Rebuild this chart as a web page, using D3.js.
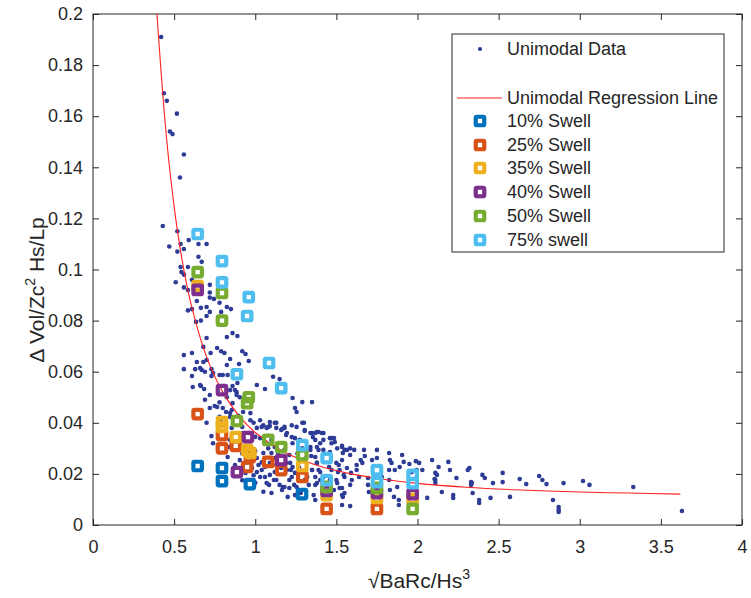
<!DOCTYPE html>
<html>
<head>
<meta charset="utf-8">
<script src="https://cdn.jsdelivr.net/npm/d3@7"></script>
<style>
  html, body { margin: 0; padding: 0; background: #fff; }
  svg { display: block; }
  text { font-family: "Liberation Sans", Arial, Helvetica, sans-serif; fill: #262626; }
</style>
</head>
<body>
<svg id="chart" width="751" height="598"></svg>
<script>
// ---------- DATA ----------
const xTicks = [0, 0.5, 1, 1.5, 2, 2.5, 3, 3.5, 4];
const xTickLabels = ["0", "0.5", "1", "1.5", "2", "2.5", "3", "3.5", "4"];
const yTicks = [0, 0.02, 0.04, 0.06, 0.08, 0.1, 0.12, 0.14, 0.16, 0.18, 0.2];
const yTickLabels = ["0", "0.02", "0.04", "0.06", "0.08", "0.1", "0.12", "0.14", "0.16", "0.18", "0.2"];

const unimodalData = [
  [0.42,0.191],[0.437,0.169],[0.455,0.166],[0.517,0.161],[0.474,0.154],[0.49,0.153],[0.56,0.145],[0.536,0.136],
  [0.43,0.117],[0.52,0.115],[0.59,0.1115],[0.54,0.110],[0.47,0.109],[0.52,0.107],[0.56,0.108],[0.65,0.110],[0.70,0.110],
  [0.65,0.105],[0.67,0.103],[0.54,0.101],[0.545,0.099],[0.585,0.101],[0.56,0.098],[0.61,0.096],[0.51,0.095],[0.56,0.093],
  [0.585,0.092],[0.72,0.094],[0.72,0.091],[0.72,0.089],[0.745,0.0885],[0.64,0.0877],[0.78,0.087],[0.665,0.085],[0.70,0.0853],
  [0.585,0.084],[0.61,0.0845],[0.825,0.0853],[0.85,0.0845],[0.72,0.0834],[0.79,0.0834],[0.70,0.0818],[0.665,0.080],[0.635,0.0795],
  [0.825,0.0736],[0.86,0.0751],[0.89,0.074],[0.70,0.0732],[0.68,0.0697],[0.765,0.0693],[0.79,0.068],[0.81,0.0673],[0.725,0.0673],
  [0.56,0.0665],[0.61,0.0673],[0.92,0.068],[0.94,0.0669],[0.64,0.0638],[0.68,0.0638],[0.70,0.0646],
  [0.845,0.065],[0.96,0.0642],[0.90,0.063],
  [0.56,0.061],[0.63,0.061],[0.67,0.0607],[0.69,0.060],[0.73,0.061],[0.61,0.0583],[0.73,0.0583],[0.78,0.0587],[0.83,0.0587],
  [0.89,0.0556],[0.86,0.0544],[0.66,0.0548],[0.685,0.0532],[0.72,0.0509],[0.845,0.0528],[0.885,0.052],[0.885,0.0509],
  [1.01,0.0548],[1.06,0.0532],[1.11,0.058],[1.15,0.0571],[1.23,0.0497],[1.29,0.0481],[1.35,0.0481],[1.245,0.0458],[1.255,0.0442],
  [0.75,0.0466],[0.80,0.0458],[0.82,0.0442],[0.855,0.045],[0.925,0.0442],[0.97,0.0438],[0.895,0.0427],[0.845,0.0423],
  [0.70,0.040],[0.73,0.0348],[0.845,0.0333],[0.84,0.0305],[0.83,0.0266],
  [0.97,0.041],[0.99,0.040],[1.01,0.038],[1.03,0.041],[1.05,0.039],[1.08,0.0384],[1.09,0.0403],[1.13,0.040],[1.16,0.0372],
  [1.18,0.038],[1.19,0.0352],[1.225,0.039],[1.255,0.0384],[1.29,0.040],[1.305,0.0372],[1.34,0.036],[1.355,0.0344],[1.38,0.0364],
  [1.41,0.036],[1.42,0.0333],[1.47,0.034],[1.49,0.0325],[1.535,0.0305],[1.54,0.0282],[1.535,0.0254],[1.565,0.0294],[1.46,0.0286],
  [1.39,0.0294],[1.34,0.0305],[1.37,0.0266],[1.38,0.0243],[1.39,0.0215],[1.35,0.0215],[1.32,0.0188],[1.50,0.0243],[1.51,0.0207],
  [1.50,0.0176],[1.52,0.0145],[1.535,0.0117],[1.535,0.0078],[1.255,0.0149],[1.21,0.0176],[1.17,0.0149],[1.13,0.0176],[1.07,0.0164],
  [1.09,0.0196],[1.03,0.0188],[1.01,0.0207],[1.06,0.0227],[1.02,0.0235],[0.98,0.0223],[0.94,0.0204],[0.875,0.0235],[0.905,0.0254],
  [0.98,0.0262],[1.01,0.0262],[1.05,0.0282],[1.10,0.0282],[1.14,0.0282],[1.18,0.0294],[1.21,0.0274],[1.19,0.0243],[1.23,0.0227],
  [1.16,0.0223],[1.12,0.0207],[1.03,0.034],[1.06,0.032],[1.10,0.0333],[1.12,0.0305],[1.23,0.032],[1.275,0.0333],[1.29,0.030],
  [0.78,0.0423],[0.79,0.0403],[0.855,0.038],[0.92,0.0384],[0.925,0.036],[1.585,0.030],[1.585,0.0274],[1.565,0.0223],[1.55,0.0188],
  [1.46,0.0176],[1.42,0.0149],[1.38,0.0164],[1.42,0.0188],
  [1.61,0.0294],[1.67,0.0294],[1.675,0.027],[1.65,0.0254],[1.625,0.0235],[1.625,0.0215],[1.64,0.0188],[1.59,0.0204],[1.595,0.0176],
  [1.585,0.0157],[1.695,0.0184],[1.695,0.0157],[1.70,0.0129],[1.75,0.0294],[1.75,0.0262],[1.72,0.0254],[1.825,0.0282],[1.83,0.0254],
  [1.84,0.0243],[1.86,0.0215],[1.825,0.0176],[1.83,0.0137],[1.855,0.011],[1.885,0.0098],[1.885,0.0078],[1.905,0.0274],[1.915,0.0247],
  [1.89,0.0227],[1.875,0.0149],[1.825,0.0215],[1.78,0.0188],[1.66,0.0243],
  [1.99,0.025],[2.01,0.0243],[1.995,0.0215],[1.965,0.0207],[2.03,0.0215],[2.09,0.0254],[2.13,0.0227],[2.12,0.0196],[2.11,0.0176],
  [2.11,0.0164],[2.06,0.0106],[2.19,0.0247],[2.20,0.0215],[2.24,0.0184],[2.15,0.0129],[2.22,0.0117],[2.22,0.0106],[2.31,0.0215],
  [2.32,0.0223],[2.335,0.0164],[2.34,0.0125],[2.38,0.0098],[2.38,0.0086],[2.40,0.0196],[2.415,0.0184],[2.45,0.0106],[2.465,0.0164],
  [2.525,0.0204],[2.525,0.0168],[2.57,0.011],[2.63,0.018],[2.67,0.016],
  [1.95,0.0239],[2.11,0.0204],[2.105,0.018],[2.33,0.0168],[2.33,0.0157],
  [2.75,0.0192],[2.77,0.0176],[2.795,0.016],[2.835,0.0098],[2.87,0.007],[2.87,0.0059],[2.87,0.0051],[2.90,0.0164],[3.02,0.0172],
  [3.06,0.0157],[3.33,0.0149],[3.63,0.0055],
  [0.615,0.054],[0.665,0.0544],[0.69,0.049],[0.765,0.0462],[0.78,0.048],[0.72,0.0458],[0.825,0.050],[0.875,0.0528],[0.905,0.050],
  [0.74,0.032],[0.845,0.0438],[0.86,0.0477],[0.825,0.0626],[0.80,0.0587],[0.74,0.0595],[0.66,0.0614],
  [1.04,0.0384],[1.07,0.038],[1.09,0.0387],[1.12,0.040],[1.13,0.038],[1.165,0.0376],[1.18,0.0384],[1.195,0.036],[1.225,0.0344],
  [1.245,0.034],[1.30,0.040],[1.305,0.0368],[1.35,0.036],[1.37,0.036],[1.39,0.0364],[1.42,0.036],[1.37,0.0333],[1.40,0.032],
  [1.38,0.0305],[1.42,0.0294],[1.46,0.034],[1.47,0.032],[1.485,0.034],[1.505,0.030],[1.535,0.031],[1.55,0.0294],[1.34,0.0294],
  [1.345,0.027],[1.38,0.0243],[1.35,0.0215],[1.37,0.0188],[1.40,0.0207],[1.455,0.0227],[1.47,0.0215],[1.515,0.0235],[1.52,0.0215],
  [1.545,0.0196],[1.505,0.0164],[1.535,0.0145],[1.55,0.0125],[1.46,0.0157],[1.485,0.0137],[1.40,0.0176],[1.37,0.0157],[1.04,0.0215],
  [1.06,0.0188],[1.085,0.0157],[1.115,0.0176],[1.15,0.0157],[1.18,0.0149],[1.225,0.0188],[1.22,0.0215],[1.215,0.0243],[1.24,0.0157],
  [1.21,0.0145],[1.165,0.0137],[1.09,0.0243],[1.115,0.0262],[1.195,0.0215],[1.245,0.0204],[1.305,0.0176],[1.33,0.0157],[1.245,0.0117],
  [1.36,0.0117],[1.37,0.0098],[1.585,0.0074],[1.54,0.011],
  [0.96,0.036],[1.0,0.0345],[0.97,0.031],[1.0,0.029],[0.92,0.028],[0.95,0.0245],[0.99,0.0195],[1.04,0.0245],[1.08,0.030],[1.0,0.0165],
  [0.92,0.0175],[1.05,0.013],[1.10,0.0125],[1.20,0.011],[1.28,0.0125],[1.13,0.0235],[1.27,0.0225],[1.31,0.026],[1.26,0.028]
];

// regression curve
const regX = [0.394, 0.45, 0.5, 0.55, 0.6, 0.7, 0.8, 0.9, 1.0, 1.2, 1.4, 1.6, 1.8, 2.0, 2.3, 2.6, 3.0, 3.3, 3.62];
const regY = [0.200, 0.1536, 0.1246, 0.1034, 0.0876, 0.0658, 0.0520, 0.0427, 0.0362, 0.0279, 0.0230, 0.0199, 0.0178, 0.0163, 0.0148, 0.0138, 0.0129, 0.0125, 0.0121];

const swell10 = [[0.645,0.0231],[0.795,0.0223],[0.795,0.0172],[0.967,0.016],[1.288,0.0121]];
const swell25 = [[0.645,0.0434],[0.795,0.0352],[0.795,0.030],[0.88,0.031],[0.967,0.0266],[0.95,0.0227],[1.08,0.0247],[1.16,0.0215],[1.29,0.0188],[1.44,0.0063],[1.75,0.0063]];
const swell35 = [[0.645,0.0935],[0.795,0.0403],[0.795,0.0384],[0.88,0.0344],[0.95,0.0294],[0.97,0.0282],[1.29,0.0231],[1.44,0.0117],[1.75,0.0106],[1.97,0.0102]];
const swell40 = [[0.645,0.092],[0.795,0.0528],[0.955,0.0344],[0.887,0.0207],[1.16,0.0254],[1.44,0.0133],[1.75,0.0125],[1.97,0.0121]];
const swell50 = [[0.645,0.099],[0.795,0.0908],[0.795,0.080],[0.96,0.050],[0.95,0.0477],[0.887,0.0407],[1.08,0.0333],[1.16,0.0305],[1.29,0.0274],[1.44,0.0149],[1.75,0.0145],[1.97,0.0063]];
const swell75 = [[0.645,0.1139],[0.795,0.1033],[0.795,0.095],[0.96,0.0892],[0.95,0.0818],[0.887,0.059],[1.085,0.0634],[1.16,0.0536],[1.29,0.0313],[1.44,0.0262],[1.44,0.0176],[1.75,0.0215],[1.75,0.0168],[1.97,0.0196],[1.97,0.0164]];

const swellNames = ["10% Swell", "25% Swell", "35% Swell", "40% Swell", "50% Swell", "75% swell"];
const swellColors = ["#0072BD", "#D95319", "#EDB120", "#7E2F8E", "#77AC30", "#4DBEEE"];
const swellSeries = [swell10, swell25, swell35, swell40, swell50, swell75];

// ---------- CHART ----------
const svg = d3.select("#chart");
const L = 93, R = 742, T = 14, B = 525;
const x = d3.scaleLinear().domain([0, 4]).range([L, R]);
const y = d3.scaleLinear().domain([0, 0.2]).range([B, T]);
const axisColor = "#262626";

svg.append("defs").append("clipPath").attr("id", "clip")
  .append("rect").attr("x", L).attr("y", T).attr("width", R - L).attr("height", B - T);

function styleAxis(g) {
  g.selectAll(".domain").remove();
  g.selectAll(".tick line").attr("stroke", axisColor).attr("stroke-width", 1);
  g.selectAll("text").attr("fill", axisColor).style("font-size", "18px");
}

svg.append("g").attr("transform", `translate(0,${B})`)
  .call(d3.axisBottom(x).tickValues(xTicks).tickFormat((d, i) => xTickLabels[i]).tickSizeInner(-6).tickSizeOuter(0).tickPadding(15))
  .call(styleAxis);
svg.append("g").attr("transform", `translate(0,${T})`)
  .call(d3.axisTop(x).tickValues(xTicks).tickFormat("").tickSizeInner(-6).tickSizeOuter(0))
  .call(styleAxis);
svg.append("g").attr("transform", `translate(${L},0)`)
  .call(d3.axisLeft(y).tickValues(yTicks).tickFormat((d, i) => yTickLabels[i]).tickSizeInner(-6).tickSizeOuter(0).tickPadding(10))
  .call(styleAxis);
svg.append("g").attr("transform", `translate(${R},0)`)
  .call(d3.axisRight(y).tickValues(yTicks).tickFormat("").tickSizeInner(-6).tickSizeOuter(0))
  .call(styleAxis);

svg.append("rect").attr("x", L).attr("y", T).attr("width", R - L).attr("height", B - T)
  .attr("fill", "none").attr("stroke", axisColor).attr("stroke-width", 1);

const plot = svg.append("g").attr("clip-path", "url(#clip)");

// unimodal data dots
plot.selectAll("circle.dot").data(unimodalData).join("circle")
  .attr("class", "dot")
  .attr("cx", d => x(d[0])).attr("cy", d => y(d[1]))
  .attr("r", 2.3).attr("fill", "#2E3B97");

// regression line
const regPts = regX.map((v, i) => [v, regY[i]]);
plot.append("path").datum(regPts)
  .attr("d", d3.line().x(d => x(d[0])).y(d => y(d[1])).curve(d3.curveCatmullRom.alpha(0.5)))
  .attr("fill", "none").attr("stroke", "#FF2020").attr("stroke-width", 1.1);

// swell squares
const sq = 8.5, sw = 4.2;
swellSeries.forEach((series, si) => {
  plot.append("g").selectAll("rect").data(series).join("rect")
    .attr("x", d => x(d[0]) - sq / 2).attr("y", d => y(d[1]) - sq / 2)
    .attr("width", sq).attr("height", sq).attr("rx", 1)
    .attr("fill", "none").attr("stroke", swellColors[si]).attr("stroke-width", sw);
});

// axis titles
svg.append("text").attr("x", 419).attr("y", 588).attr("text-anchor", "middle")
  .style("font-size", "21px")
  .call(t => {
    t.append("tspan").text("\u221ABaRc/Hs");
    t.append("tspan").attr("dy", -9).style("font-size", "14px").text("3");
  });

svg.append("text").attr("transform", "translate(44,290) rotate(-90)").attr("text-anchor", "middle")
  .style("font-size", "21px")
  .call(t => {
    t.append("tspan").text("\u0394 Vol/Zc");
    t.append("tspan").attr("dy", -9).style("font-size", "14px").text("2");
    t.append("tspan").attr("dy", 9).text(" Hs/Lp");
  });

// legend
const lg = svg.append("g");
lg.append("rect").attr("x", 452).attr("y", 34).attr("width", 272).attr("height", 218)
  .attr("fill", "#fff").attr("stroke", axisColor).attr("stroke-width", 1);
const textX = 507, markX = 480, fs = "18px";
lg.append("circle").attr("cx", markX).attr("cy", 49).attr("r", 2.1).attr("fill", "#2E3B97");
lg.append("text").attr("x", textX).attr("y", 49).attr("dy", "0.35em").style("font-size", fs).text("Unimodal Data");
lg.append("line").attr("x1", 457).attr("x2", 502).attr("y1", 98).attr("y2", 98).attr("stroke", "#FF2020").attr("stroke-width", 1.1);
lg.append("text").attr("x", textX).attr("y", 98).attr("dy", "0.35em").style("font-size", fs).text("Unimodal Regression Line");
const legY = [121, 145, 168, 192, 216, 240];
swellNames.forEach((name, i) => {
  lg.append("rect").attr("x", markX - sq / 2).attr("y", legY[i] - sq / 2).attr("width", sq).attr("height", sq).attr("rx", 1)
    .attr("fill", "none").attr("stroke", swellColors[i]).attr("stroke-width", sw);
  lg.append("text").attr("x", textX).attr("y", legY[i]).attr("dy", "0.35em").style("font-size", fs).text(name);
});
</script>
</body>
</html>
